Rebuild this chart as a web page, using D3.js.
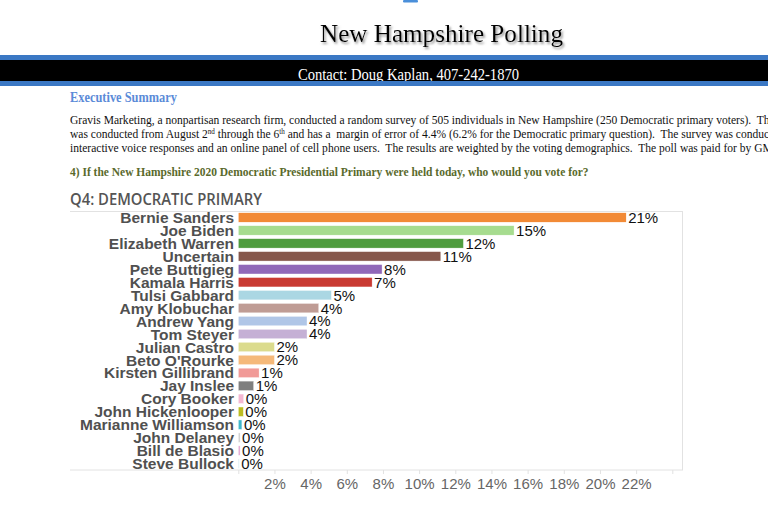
<!DOCTYPE html>
<html>
<head>
<meta charset="utf-8">
<script src="https://cdn.jsdelivr.net/npm/d3@7"></script>
<style>
  html, body { margin: 0; padding: 0; background: #fff; overflow: hidden; }
  svg { display: block; }
  .serif { font-family: "Liberation Serif", "Times New Roman", serif; }
  .sans { font-family: "Liberation Sans", Arial, sans-serif; }
</style>
</head>
<body>
<div id="vis"></div>
<script>
// ---- chart data ----
const candidates = ["Bernie Sanders", "Joe Biden", "Elizabeth Warren", "Uncertain", "Pete Buttigieg",
  "Kamala Harris", "Tulsi Gabbard", "Amy Klobuchar", "Andrew Yang", "Tom Steyer", "Julian Castro",
  "Beto O'Rourke", "Kirsten Gillibrand", "Jay Inslee", "Cory Booker", "John Hickenlooper",
  "Marianne Williamson", "John Delaney", "Bill de Blasio", "Steve Bullock"];
const shares = [21.45, 15.25, 12.45, 11.2, 7.95, 7.4, 5.15, 4.45, 3.8, 3.8, 2.0, 2.0, 1.15, 0.85,
  0.3, 0.28, 0.2, 0.1, 0.1, 0.05];
const barColors = ["#f28a36", "#a6dc8f", "#4f9c3e", "#86574b", "#9068b8", "#c93a32", "#abd7e3",
  "#bf9c95", "#b0c6e7", "#c5b0d5", "#dbdb8d", "#f5b97a", "#f19a97", "#7f7f7f", "#f4b8d2",
  "#bcbd22", "#3fb8cc", "#cfcfcf", "#e3a6d2", "#c8e4ec"];
const tickValues = [0, 2, 4, 6, 8, 10, 12, 14, 16, 18, 20, 22, 24];

// ---- page text ----
const paraLines = [
  ["Gravis Marketing, a nonpartisan research firm, conducted a random survey of 505 individuals in New Hampshire (250 Democratic primary voters).", "  The survey"],
  ["was conducted from August 2", "nd", " through the 6", "th", " and has a  margin of error of 4.4% (6.2% for the Democratic primary question).  The survey was conducted using"],
  ["interactive voice responses and an online panel of cell phone users.  The results are weighted by the voting demographics.  The poll was paid for by GMI"]
];

const width = 768;
const height = 509;

const svg = d3.select("#vis").append("svg")
  .attr("width", width).attr("height", height)
  .attr("viewBox", [0, 0, width, height]);

const defs = svg.append("defs");
defs.append("filter").attr("id", "shadow")
  .attr("x", "-5%").attr("y", "-20%").attr("width", "110%").attr("height", "150%")
  .append("feDropShadow")
  .attr("dx", 1.5).attr("dy", 2).attr("stdDeviation", 1.2)
  .attr("flood-color", "#777").attr("flood-opacity", 0.8);

// ---- header ----
svg.append("rect").attr("x", 403).attr("y", 0).attr("width", 15).attr("height", 2.5)
  .attr("rx", 1).attr("fill", "#4a8fda");

svg.append("text").attr("class", "serif")
  .attr("x", 320).attr("y", 42)
  .attr("textLength", 243).attr("lengthAdjust", "spacingAndGlyphs")
  .style("font-size", "26px").attr("fill", "#000")
  .attr("filter", "url(#shadow)")
  .text("New Hampshire Polling");

svg.append("rect").attr("x", 0).attr("y", 55).attr("width", width).attr("height", 5).attr("fill", "#3b78c4");
svg.append("rect").attr("x", 0).attr("y", 60).attr("width", width).attr("height", 21).attr("fill", "#000");
svg.append("text").attr("class", "serif")
  .attr("x", 298).attr("y", 79.5)
  .attr("textLength", 221).attr("lengthAdjust", "spacingAndGlyphs")
  .style("font-size", "16px").attr("fill", "#fff")
  .text("Contact: Doug Kaplan, 407-242-1870");
svg.append("rect").attr("x", 0).attr("y", 81).attr("width", width).attr("height", 5).attr("fill", "#3b78c4");

// squeeze a text element horizontally so that a measured part reaches targetRight
function fit(sel, node, x, y, targetRight) {
  const w = node.getComputedTextLength();
  sel.attr("transform", `translate(${x},${y}) scale(${(targetRight - x) / w},1)`);
  return (targetRight - x) / w;
}

const exec = svg.append("text").attr("class", "serif")
  .style("font-size", "15px").style("font-weight", "bold").attr("fill", "#5b8bd8")
  .text("Executive Summary");
fit(exec, exec.node(), 70, 102, 177);

const paraG = svg.append("g").attr("class", "serif").style("font-size", "13px").attr("fill", "#111");
let sx = 1;
paraLines.forEach((parts, i) => {
  const t = paraG.append("text").style("white-space", "pre");
  parts.forEach((p, j) => {
    const sup = (i === 1 && (j === 1 || j === 3));
    const ts = t.append("tspan").text(p);
    if (sup) ts.style("font-size", "8px").attr("baseline-shift", "super");
  });
  const y = 124 + i * 14;
  if (i === 0) {
    sx = fit(t, t.select("tspan").node(), 70, y, 752);
  } else {
    t.attr("transform", `translate(70,${y}) scale(${sx},1)`);
  }
});

const q = svg.append("text").attr("class", "serif")
  .style("font-size", "12.5px").style("font-weight", "bold").attr("fill", "#5a6a2c")
  .text("4) If the New Hampshire 2020 Democratic Presidential Primary were held today, who would you vote for?");
fit(q, q.node(), 70, 175.5, 589);

// ---- chart ----
const frameLeft = 70, frameRight = 683, frameTop = 211, frameBottom = 470;

svg.append("text")
  .attr("x", 70).attr("y", 205)
  .attr("textLength", 192).attr("lengthAdjust", "spacingAndGlyphs")
  .style("font-family", "'Open Sans', sans-serif").style("font-size", "16px")
  .style("font-weight", 600)
  .attr("fill", "#555")
  .text("Q4: DEMOCRATIC PRIMARY");

const x = d3.scaleLinear().domain([0, 24]).range([238.3, 672.3]);
const y = d3.scaleBand().domain(candidates).range([frameTop, frameBottom]).paddingInner(0.27).paddingOuter(0.135);

const frame = svg.append("g").attr("stroke", "#e2e2e2").attr("fill", "none");
frame.append("line").attr("x1", frameLeft).attr("x2", frameRight).attr("y1", frameTop + 0.5).attr("y2", frameTop + 0.5);
frame.append("line").attr("x1", frameRight - 0.5).attr("x2", frameRight - 0.5).attr("y1", frameTop).attr("y2", frameBottom);

const rows = candidates.map((c, i) => ({ name: c, value: shares[i], color: barColors[i] }));

svg.append("g").selectAll("rect").data(rows).join("rect")
  .attr("x", x(0))
  .attr("y", d => y(d.name))
  .attr("width", d => Math.max(0.8, x(d.value) - x(0)))
  .attr("height", y.bandwidth())
  .attr("fill", d => d.color)
  .attr("stroke", "#fff").attr("stroke-width", 0.4);

svg.append("g").attr("class", "sans")
  .style("font-size", "15.5px").style("font-weight", "bold").attr("fill", "#505050")
  .selectAll("text").data(rows).join("text")
  .attr("x", 234)
  .attr("y", d => y(d.name) + y.bandwidth() / 2)
  .attr("dy", "0.36em")
  .attr("text-anchor", "end")
  .text(d => d.name);

const fmt = d3.format(".0f");
svg.append("g").attr("class", "sans")
  .style("font-size", "15px").attr("fill", "#111")
  .selectAll("text").data(rows).join("text")
  .attr("x", d => x(d.value) + 2)
  .attr("y", d => y(d.name) + y.bandwidth() / 2)
  .attr("dy", "0.36em")
  .text(d => fmt(d.value) + "%");

const axis = svg.append("g").attr("transform", `translate(0,${frameBottom})`)
  .call(d3.axisBottom(x).tickValues(tickValues).tickSize(4).tickPadding(4)
    .tickFormat(d => (d === 0 || d === 24) ? "" : d + "%"));
axis.select(".domain").remove();
axis.append("line").attr("x1", frameLeft).attr("x2", frameRight).attr("stroke", "#e2e2e2");
axis.selectAll(".tick line").attr("stroke", "#e2e2e2");
axis.selectAll(".tick text")
  .style("font-family", "'Liberation Sans', Arial, sans-serif")
  .style("font-size", "15px").attr("fill", "#666");
</script>
</body>
</html>
